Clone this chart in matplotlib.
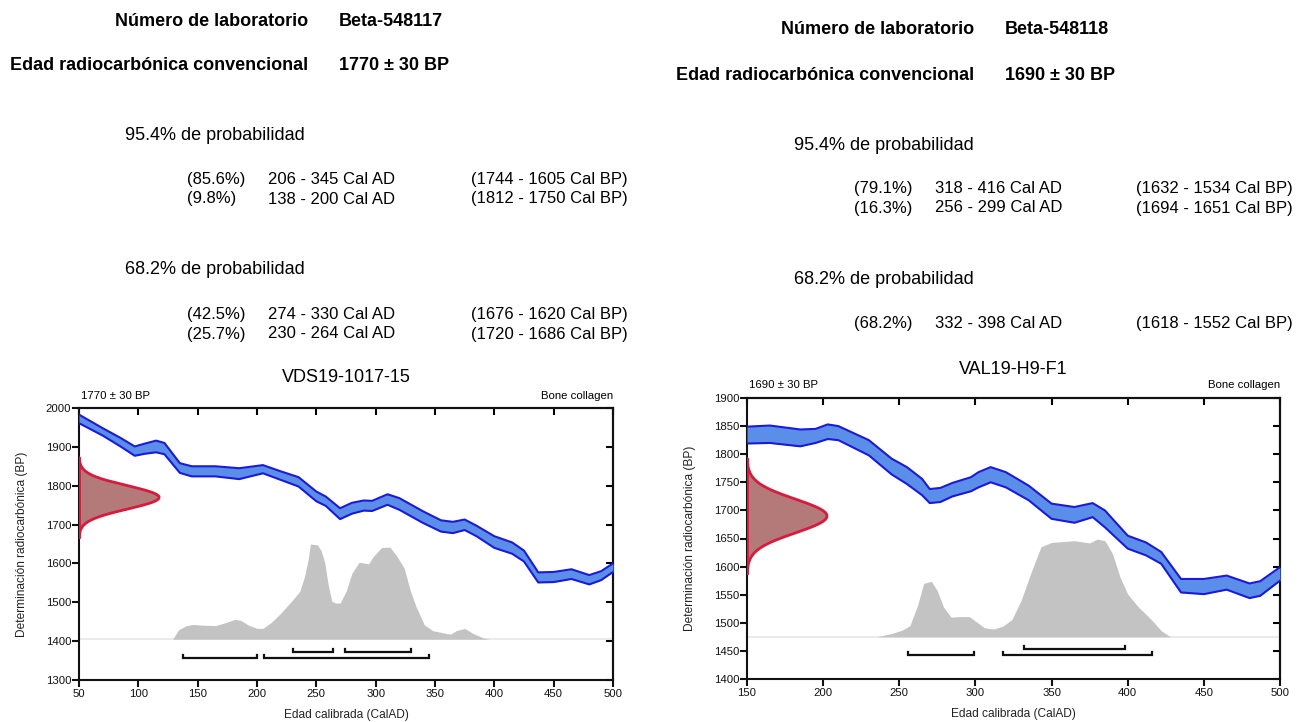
import numpy as np
import matplotlib
matplotlib.use("Agg")
import matplotlib.pyplot as plt

plt.rcParams['font.family'] = ['Liberation Sans', 'DejaVu Sans']

W, H = 1301, 722

# ---------------- Sample 1 (left) ----------------
s1_lab = "Beta-548117"
s1_age = "1770 ± 30 BP"
s1_mu, s1_sd = 1770, 30
s1_title = "VDS19-1017-15"
s1_rows95 = [("(85.6%)", "206 - 345 Cal AD", "(1744 - 1605 Cal BP)"),
             ("(9.8%)", "138 - 200 Cal AD", "(1812 - 1750 Cal BP)")]
s1_rows68 = [("(42.5%)", "274 - 330 Cal AD", "(1676 - 1620 Cal BP)"),
             ("(25.7%)", "230 - 264 Cal AD", "(1720 - 1686 Cal BP)")]
s1_ranges95 = [(138, 200), (206, 345)]
s1_ranges68 = [(230, 264), (274, 330)]
s1_xticks = [50, 100, 150, 200, 250, 300, 350, 400, 450, 500]
s1_yticks = [1300, 1400, 1500, 1600, 1700, 1800, 1900, 2000]
s1_curve_x = [50, 70, 85, 97, 105, 115, 122, 135, 145, 165, 185, 205, 220, 235, 250,
              258, 270, 280, 290, 297, 310, 320, 340, 355, 365, 375, 385, 400, 415,
              425, 437, 450, 465, 480, 490, 500]
s1_curve_hi = [1983, 1948, 1923, 1901, 1908, 1916, 1910, 1858, 1850, 1850, 1845, 1853,
               1837, 1822, 1785, 1772, 1742, 1756, 1762, 1761, 1778, 1768, 1734, 1711,
               1707, 1713, 1697, 1670, 1654, 1633, 1577, 1578, 1585, 1570, 1580, 1600]
s1_curve_lo = [1961, 1929, 1901, 1877, 1882, 1886, 1881, 1833, 1824, 1824, 1817, 1832,
               1815, 1798, 1760, 1748, 1714, 1728, 1736, 1735, 1751, 1738, 1704, 1682,
               1678, 1686, 1670, 1640, 1625, 1605, 1551, 1552, 1560, 1546, 1557, 1578]
s1_dens_x = [129, 134, 140, 146, 155, 165, 174, 181, 186, 193, 200, 205, 212, 220, 230,
             236, 240, 243, 245, 251, 254, 257, 260, 263, 266, 270, 275, 280, 286, 294,
             298, 305, 312, 318, 324, 329, 334, 341, 348, 356, 363, 368, 375, 382, 391, 396]
s1_dens_p = [0.0, 0.10, 0.14, 0.155, 0.147, 0.143, 0.176, 0.208, 0.20, 0.147, 0.114,
             0.114, 0.176, 0.273, 0.412, 0.502, 0.657, 0.83, 1.0, 0.99, 0.93, 0.81, 0.57,
             0.40, 0.38, 0.38, 0.50, 0.694, 0.808, 0.792, 0.869, 0.963, 0.967, 0.869,
             0.747, 0.518, 0.343, 0.151, 0.090, 0.069, 0.053, 0.090, 0.114, 0.061, 0.012, 0.0]

# ---------------- Sample 2 (right) ----------------
s2_lab = "Beta-548118"
s2_age = "1690 ± 30 BP"
s2_mu, s2_sd = 1690, 30
s2_title = "VAL19-H9-F1"
s2_rows95 = [("(79.1%)", "318 - 416 Cal AD", "(1632 - 1534 Cal BP)"),
             ("(16.3%)", "256 - 299 Cal AD", "(1694 - 1651 Cal BP)")]
s2_rows68 = [("(68.2%)", "332 - 398 Cal AD", "(1618 - 1552 Cal BP)")]
s2_ranges95 = [(256, 299), (318, 416)]
s2_ranges68 = [(332, 398)]
s2_xticks = [150, 200, 250, 300, 350, 400, 450, 500]
s2_yticks = [1400, 1450, 1500, 1550, 1600, 1650, 1700, 1750, 1800, 1850, 1900]
s2_curve_x = [150, 165, 185, 195, 203, 210, 230, 245, 255, 265, 270, 277, 285, 297, 302,
              310, 320, 335, 350, 365, 377, 385, 400, 412, 422, 435, 450, 465, 480, 487, 500]
s2_curve_hi = [1849, 1851, 1844, 1845, 1853, 1850, 1825, 1792, 1777, 1756, 1738, 1740,
               1749, 1759, 1768, 1777, 1768, 1744, 1712, 1706, 1713, 1700, 1655, 1643,
               1626, 1578, 1578, 1584, 1570, 1574, 1599]
s2_curve_lo = [1819, 1820, 1814, 1820, 1827, 1825, 1798, 1764, 1747, 1727, 1713, 1715,
               1725, 1734, 1741, 1750, 1741, 1718, 1685, 1678, 1688, 1670, 1632, 1620,
               1605, 1554, 1551, 1559, 1544, 1548, 1575]
s2_dens_x = [235, 245, 252, 257, 262, 266, 271, 275, 279, 284, 290, 296, 301, 306, 312,
             318, 324, 330, 337, 343, 350, 365, 375, 380, 385, 390, 395, 400, 407, 415, 422, 428]
s2_dens_p = [0.0, 0.034, 0.069, 0.115, 0.322, 0.546, 0.569, 0.471, 0.305, 0.201, 0.207,
             0.207, 0.149, 0.092, 0.080, 0.109, 0.178, 0.374, 0.678, 0.920, 0.966, 0.983,
             0.960, 1.0, 0.983, 0.851, 0.609, 0.437, 0.305, 0.184, 0.063, 0.0]

BLUE_FILL = '#5b8ee8'
BLUE_EDGE = '#1a1ad8'
RED_EDGE = '#d81a3c'
RED_FILL = '#b47a7a'
GRAY = '#c3c3c3'

fig = plt.figure(figsize=(W / 100, H / 100), dpi=100)


def px(x, y):
    return x / W, 1 - y / H


def ftext(x, y, s, fontsize=10, **kw):
    # y is the visual centre of the capital letters; place the baseline accordingly
    yb = y + 0.36 * fontsize * 100 / 72
    fx, fy = px(x, yb)
    fig.text(fx, fy, s, va='baseline', fontsize=fontsize, **kw)


def header(xr, xv, y_lab, y_age, lab, age, xp, xc1, xc2, xc3r, y95, rows95, y68, rows68):
    ftext(xr, y_lab, "Número de laboratorio", ha='right', fontsize=13, fontweight='bold')
    ftext(xv, y_lab, lab, ha='left', fontsize=13, fontweight='bold')
    ftext(xr, y_age, "Edad radiocarbónica convencional", ha='right', fontsize=13, fontweight='bold')
    ftext(xv, y_age, age, ha='left', fontsize=13, fontweight='bold')
    ftext(xp, y95, "95.4% de probabilidad", ha='left', fontsize=13)
    for i, (a, b, c) in enumerate(rows95):
        yy = y95 + 44 + 19.5 * i
        ftext(xc1, yy, a, ha='left', fontsize=12)
        ftext(xc2, yy, b, ha='left', fontsize=12)
        ftext(xc3r, yy, c, ha='right', fontsize=12)
    ftext(xp, y68, "68.2% de probabilidad", ha='left', fontsize=13)
    for i, (a, b, c) in enumerate(rows68):
        yy = y68 + 45 + 19.5 * i
        ftext(xc1, yy, a, ha='left', fontsize=12)
        ftext(xc2, yy, b, ha='left', fontsize=12)
        ftext(xc3r, yy, c, ha='right', fontsize=12)


header(308, 339, 19, 64, s1_lab, s1_age, 125, 187, 268, 628, 134, s1_rows95, 268, s1_rows68)
header(974, 1005, 28, 73, s2_lab, s2_age, 794, 854, 935, 1293, 143, s2_rows95, 277, s2_rows68)


def panel(rect_px, xlim, ylim, xticks, yticks, cx, chi, clo, dx, dp, base, dh,
          mu, sd, r95, r68, y95, y68, title, age, title_y, ann_y):
    x0, y0, x1, y1 = rect_px
    ax = fig.add_axes([x0 / W, 1 - y1 / H, (x1 - x0) / W, (y1 - y0) / H])
    ax.set_xlim(*xlim)
    ax.set_ylim(*ylim)
    # probability distribution (gray)
    dx = np.array(dx, float)
    dp = np.array(dp, float)
    ax.plot(xlim, [base, base], color='#e6e6e6', lw=1.2, zorder=1)
    ax.fill_between(dx, base, base + dp * dh, color=GRAY, lw=0, zorder=2)
    # calibration curve band
    ax.fill_between(cx, clo, chi, color=BLUE_FILL, lw=0, zorder=3)
    ax.plot(cx, chi, color=BLUE_EDGE, lw=1.5, zorder=4)
    ax.plot(cx, clo, color=BLUE_EDGE, lw=1.5, zorder=4)
    # measurement distribution (red)
    yy = np.linspace(mu - 3.4 * sd, mu + 3.4 * sd, 300)
    peak = 0.15 * (xlim[1] - xlim[0])
    xx = xlim[0] + peak * np.exp(-0.5 * ((yy - mu) / sd) ** 2)
    ax.fill_betweenx(yy, xlim[0], xx, color=RED_FILL, lw=0, zorder=5)
    ax.plot(xx, yy, color=RED_EDGE, lw=2.0, zorder=6, solid_capstyle='round')
    ax.plot([xlim[0], xlim[0]], [yy[0], yy[-1]], color=RED_EDGE, lw=2.0, zorder=6)
    # range brackets
    th = 0.011 * (ylim[1] - ylim[0])
    for (a, b), lev in [(r, y95) for r in r95] + [(r, y68) for r in r68]:
        ax.plot([a, a, b, b], [lev + th, lev, lev, lev + th], color='#111111', lw=1.6,
                zorder=7, solid_joinstyle='miter')
    # axes styling
    for s in ax.spines.values():
        s.set_linewidth(1.5)
        s.set_color('#111111')
    ax.set_xticks(xticks)
    ax.set_yticks(yticks)
    ax.tick_params(direction='out', length=5, width=1.5, labelsize=8.2, pad=1.5,
                   colors='#111111')
    ax.tick_params(axis='y', pad=0.5)
    sx = ax.secondary_xaxis('top')
    sx.set_xticks(xticks)
    sx.tick_params(direction='in', length=5, width=1.5, labeltop=False)
    sx.spines['top'].set_linewidth(1.5)
    sy = ax.secondary_yaxis('right')
    sy.set_yticks(yticks)
    sy.tick_params(direction='in', length=5, width=1.5, labelright=False)
    sy.spines['right'].set_linewidth(1.5)
    ax.set_xlabel("Edad calibrada (CalAD)", fontsize=8.6, color='#222222')
    ax.set_ylabel("Determinación radiocarbónica (BP)", fontsize=8.6, color='#222222')
    ax.xaxis.set_label_coords(0.5, -(29 / (y1 - y0)))
    ax.yaxis.set_label_coords(-(51 / (x1 - x0)), 0.5)
    ftext((x0 + x1) / 2, title_y, title, ha='center', fontsize=13)
    ftext(x0 + 2, ann_y, age, ha='left', fontsize=8.2)
    ftext(x1, ann_y, "Bone collagen", ha='right', fontsize=8.2)
    return ax


panel((79, 408, 613, 680), (50, 500), (1300, 2000), s1_xticks, s1_yticks,
      s1_curve_x, s1_curve_hi, s1_curve_lo, s1_dens_x, s1_dens_p, 1405, 245,
      s1_mu, s1_sd, s1_ranges95, s1_ranges68, 1357, 1373, s1_title, s1_age, 375, 395)
panel((747, 398, 1280, 679), (150, 500), (1400, 1900), s2_xticks, s2_yticks,
      s2_curve_x, s2_curve_hi, s2_curve_lo, s2_dens_x, s2_dens_p, 1475, 174,
      s2_mu, s2_sd, s2_ranges95, s2_ranges68, 1442, 1453, s2_title, s2_age, 367, 384)

fig.savefig("out.png", dpi=100)
